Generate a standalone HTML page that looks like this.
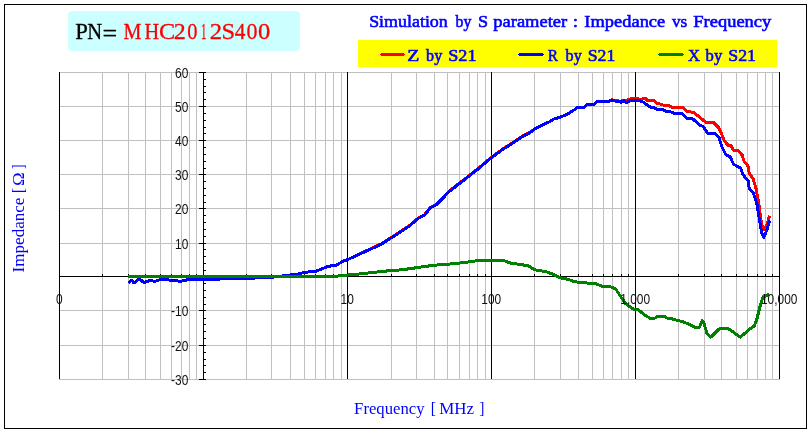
<!DOCTYPE html>
<html><head><meta charset="utf-8"><title>Impedance vs Frequency</title>
<style>html,body{margin:0;padding:0;background:#fff;}body{width:811px;height:432px;overflow:hidden;font-family:"Liberation Sans",sans-serif;}</style></head>
<body>
<svg width="811" height="432" viewBox="0 0 811 432" style="display:block;will-change:transform">
<rect x="0" y="0" width="811" height="432" fill="#fff"/>
<rect x="4.5" y="4.5" width="802" height="424" fill="#fff" stroke="#000" stroke-width="1"/>
<rect x="68" y="11" width="232" height="40" rx="4" ry="4" fill="#ccffff"/>
<rect x="358" y="40" width="419" height="27" fill="#ffff00"/>
<g stroke="#c0c0c0" stroke-width="1" shape-rendering="crispEdges"><line x1="102.5" y1="72" x2="102.5" y2="380"/><line x1="128.5" y1="72" x2="128.5" y2="380"/><line x1="145.5" y1="72" x2="145.5" y2="380"/><line x1="160.5" y1="72" x2="160.5" y2="380"/><line x1="171.5" y1="72" x2="171.5" y2="380"/><line x1="181.5" y1="72" x2="181.5" y2="380"/><line x1="189.5" y1="72" x2="189.5" y2="380"/><line x1="196.5" y1="72" x2="196.5" y2="380"/><line x1="246.5" y1="72" x2="246.5" y2="380"/><line x1="271.5" y1="72" x2="271.5" y2="380"/><line x1="290.5" y1="72" x2="290.5" y2="380"/><line x1="304.5" y1="72" x2="304.5" y2="380"/><line x1="315.5" y1="72" x2="315.5" y2="380"/><line x1="325.5" y1="72" x2="325.5" y2="380"/><line x1="333.5" y1="72" x2="333.5" y2="380"/><line x1="341.5" y1="72" x2="341.5" y2="380"/><line x1="391.5" y1="72" x2="391.5" y2="380"/><line x1="416.5" y1="72" x2="416.5" y2="380"/><line x1="434.5" y1="72" x2="434.5" y2="380"/><line x1="447.5" y1="72" x2="447.5" y2="380"/><line x1="459.5" y1="72" x2="459.5" y2="380"/><line x1="469.5" y1="72" x2="469.5" y2="380"/><line x1="477.5" y1="72" x2="477.5" y2="380"/><line x1="485.5" y1="72" x2="485.5" y2="380"/><line x1="534.5" y1="72" x2="534.5" y2="380"/><line x1="560.5" y1="72" x2="560.5" y2="380"/><line x1="578.5" y1="72" x2="578.5" y2="380"/><line x1="592.5" y1="72" x2="592.5" y2="380"/><line x1="603.5" y1="72" x2="603.5" y2="380"/><line x1="612.5" y1="72" x2="612.5" y2="380"/><line x1="621.5" y1="72" x2="621.5" y2="380"/><line x1="628.5" y1="72" x2="628.5" y2="380"/><line x1="678.5" y1="72" x2="678.5" y2="380"/><line x1="704.5" y1="72" x2="704.5" y2="380"/><line x1="721.5" y1="72" x2="721.5" y2="380"/><line x1="736.5" y1="72" x2="736.5" y2="380"/><line x1="747.5" y1="72" x2="747.5" y2="380"/><line x1="757.5" y1="72" x2="757.5" y2="380"/><line x1="765.5" y1="72" x2="765.5" y2="380"/><line x1="772.5" y1="72" x2="772.5" y2="380"/><line x1="59" y1="379.5" x2="780" y2="379.5"/><line x1="59" y1="345.5" x2="780" y2="345.5"/><line x1="59" y1="310.5" x2="780" y2="310.5"/><line x1="59" y1="276.5" x2="780" y2="276.5"/><line x1="59" y1="243.5" x2="780" y2="243.5"/><line x1="59" y1="208.5" x2="780" y2="208.5"/><line x1="59" y1="174.5" x2="780" y2="174.5"/><line x1="59" y1="140.5" x2="780" y2="140.5"/><line x1="59" y1="106.5" x2="780" y2="106.5"/><line x1="59" y1="72.5" x2="780" y2="72.5"/></g>
<g stroke="#000" stroke-width="1" shape-rendering="crispEdges"><line x1="59.5" y1="72" x2="59.5" y2="379"/><line x1="203.5" y1="72" x2="203.5" y2="379"/><line x1="347.5" y1="72" x2="347.5" y2="379"/><line x1="491.5" y1="72" x2="491.5" y2="379"/><line x1="635.5" y1="72" x2="635.5" y2="379"/><line x1="779.5" y1="72" x2="779.5" y2="379"/><line x1="59" y1="276.5" x2="780" y2="276.5"/><line x1="59.5" y1="274" x2="59.5" y2="277"/><line x1="102.5" y1="274" x2="102.5" y2="277"/><line x1="128.5" y1="274" x2="128.5" y2="277"/><line x1="145.5" y1="274" x2="145.5" y2="277"/><line x1="160.5" y1="274" x2="160.5" y2="277"/><line x1="171.5" y1="274" x2="171.5" y2="277"/><line x1="181.5" y1="274" x2="181.5" y2="277"/><line x1="189.5" y1="274" x2="189.5" y2="277"/><line x1="196.5" y1="274" x2="196.5" y2="277"/><line x1="203.5" y1="274" x2="203.5" y2="277"/><line x1="246.5" y1="274" x2="246.5" y2="277"/><line x1="271.5" y1="274" x2="271.5" y2="277"/><line x1="290.5" y1="274" x2="290.5" y2="277"/><line x1="304.5" y1="274" x2="304.5" y2="277"/><line x1="315.5" y1="274" x2="315.5" y2="277"/><line x1="325.5" y1="274" x2="325.5" y2="277"/><line x1="333.5" y1="274" x2="333.5" y2="277"/><line x1="341.5" y1="274" x2="341.5" y2="277"/><line x1="347.5" y1="274" x2="347.5" y2="277"/><line x1="391.5" y1="274" x2="391.5" y2="277"/><line x1="416.5" y1="274" x2="416.5" y2="277"/><line x1="434.5" y1="274" x2="434.5" y2="277"/><line x1="447.5" y1="274" x2="447.5" y2="277"/><line x1="459.5" y1="274" x2="459.5" y2="277"/><line x1="469.5" y1="274" x2="469.5" y2="277"/><line x1="477.5" y1="274" x2="477.5" y2="277"/><line x1="485.5" y1="274" x2="485.5" y2="277"/><line x1="491.5" y1="274" x2="491.5" y2="277"/><line x1="534.5" y1="274" x2="534.5" y2="277"/><line x1="560.5" y1="274" x2="560.5" y2="277"/><line x1="578.5" y1="274" x2="578.5" y2="277"/><line x1="592.5" y1="274" x2="592.5" y2="277"/><line x1="603.5" y1="274" x2="603.5" y2="277"/><line x1="612.5" y1="274" x2="612.5" y2="277"/><line x1="621.5" y1="274" x2="621.5" y2="277"/><line x1="628.5" y1="274" x2="628.5" y2="277"/><line x1="635.5" y1="274" x2="635.5" y2="277"/><line x1="678.5" y1="274" x2="678.5" y2="277"/><line x1="704.5" y1="274" x2="704.5" y2="277"/><line x1="721.5" y1="274" x2="721.5" y2="277"/><line x1="736.5" y1="274" x2="736.5" y2="277"/><line x1="747.5" y1="274" x2="747.5" y2="277"/><line x1="757.5" y1="274" x2="757.5" y2="277"/><line x1="765.5" y1="274" x2="765.5" y2="277"/><line x1="772.5" y1="274" x2="772.5" y2="277"/><line x1="199" y1="379.5" x2="206" y2="379.5"/><line x1="203" y1="372.5" x2="206" y2="372.5"/><line x1="203" y1="365.5" x2="206" y2="365.5"/><line x1="203" y1="359.5" x2="206" y2="359.5"/><line x1="203" y1="352.5" x2="206" y2="352.5"/><line x1="199" y1="345.5" x2="206" y2="345.5"/><line x1="203" y1="338.5" x2="206" y2="338.5"/><line x1="203" y1="331.5" x2="206" y2="331.5"/><line x1="203" y1="324.5" x2="206" y2="324.5"/><line x1="203" y1="318.5" x2="206" y2="318.5"/><line x1="199" y1="310.5" x2="206" y2="310.5"/><line x1="203" y1="304.5" x2="206" y2="304.5"/><line x1="203" y1="297.5" x2="206" y2="297.5"/><line x1="203" y1="290.5" x2="206" y2="290.5"/><line x1="203" y1="283.5" x2="206" y2="283.5"/><line x1="199" y1="276.5" x2="206" y2="276.5"/><line x1="203" y1="270.5" x2="206" y2="270.5"/><line x1="203" y1="263.5" x2="206" y2="263.5"/><line x1="203" y1="256.5" x2="206" y2="256.5"/><line x1="203" y1="249.5" x2="206" y2="249.5"/><line x1="199" y1="243.5" x2="206" y2="243.5"/><line x1="203" y1="236.5" x2="206" y2="236.5"/><line x1="203" y1="229.5" x2="206" y2="229.5"/><line x1="203" y1="222.5" x2="206" y2="222.5"/><line x1="203" y1="215.5" x2="206" y2="215.5"/><line x1="199" y1="208.5" x2="206" y2="208.5"/><line x1="203" y1="202.5" x2="206" y2="202.5"/><line x1="203" y1="195.5" x2="206" y2="195.5"/><line x1="203" y1="188.5" x2="206" y2="188.5"/><line x1="203" y1="181.5" x2="206" y2="181.5"/><line x1="199" y1="174.5" x2="206" y2="174.5"/><line x1="203" y1="168.5" x2="206" y2="168.5"/><line x1="203" y1="161.5" x2="206" y2="161.5"/><line x1="203" y1="154.5" x2="206" y2="154.5"/><line x1="203" y1="147.5" x2="206" y2="147.5"/><line x1="199" y1="140.5" x2="206" y2="140.5"/><line x1="203" y1="133.5" x2="206" y2="133.5"/><line x1="203" y1="127.5" x2="206" y2="127.5"/><line x1="203" y1="120.5" x2="206" y2="120.5"/><line x1="203" y1="113.5" x2="206" y2="113.5"/><line x1="199" y1="106.5" x2="206" y2="106.5"/><line x1="203" y1="99.5" x2="206" y2="99.5"/><line x1="203" y1="92.5" x2="206" y2="92.5"/><line x1="203" y1="86.5" x2="206" y2="86.5"/><line x1="203" y1="79.5" x2="206" y2="79.5"/><line x1="199" y1="72.5" x2="206" y2="72.5"/></g>
<polyline shape-rendering="crispEdges" fill="none" stroke="#ff0000" stroke-width="2.3" stroke-linejoin="round" stroke-linecap="butt" points="357.4,254.4 369.2,249.1 381.0,243.6 388.9,238.6 398.7,232.2 408.5,225.9 418.3,217.6 424.2,214.5 430.1,207.2 436.0,204.2 441.9,198.3 448.0,191.8 458.4,183.4 466.8,177.1 477.2,168.8 491.4,156.9 502.2,149.0 512.6,142.3 523.0,135.4 529.3,132.3 535.5,127.8 543.9,123.7"/>
<polyline shape-rendering="crispEdges" fill="none" stroke="#ff0000" stroke-width="3" stroke-linejoin="round" stroke-linecap="butt" points="544.2,124.2 550.4,121.3 553.7,119.1 559.9,117.3 566.0,114.9 572.2,111.2 577.7,107.5 583.9,107.5 587.0,104.6 593.8,104.3 596.9,101.6 609.2,101.2 611.7,99.8 613.5,100.5 619.0,101.0 620.9,101.2 624.0,100.4 626.4,100.6 628.9,99.4 631.4,98.4 637.5,98.4 639.6,99.3 642.0,99.3 643.7,98.4 645.5,98.6 647.6,100.6 654.0,100.8 657.7,103.8 661.5,104.2 664.5,105.8 669.8,106.0 672.0,107.5 683.0,107.6 686.7,111.3 694.0,112.6 700.6,118.1 706.1,122.4 713.5,122.4 719.0,128.0 721.9,134.8 724.6,141.3 728.3,145.4 731.1,145.9 733.9,150.6 738.5,150.9 742.2,155.2 744.1,161.3 748.1,166.2 749.2,173.5 753.1,178.8 756.2,189.2 759.1,205.8 761.3,222.5 763.6,229.8 766.2,226.7 769.6,215.8"/>
<polyline shape-rendering="crispEdges" fill="none" stroke="#0000ff" stroke-width="3" stroke-linejoin="round" stroke-linecap="butt" points="128.3,283.0 131.7,280.2 133.6,282.6 135.5,282.0 138.5,279.0 141.0,280.2 144.0,282.6 146.5,281.4 150.8,280.5 154.5,281.4 160.7,279.6 166.9,279.0 169.3,280.2 175.5,280.5 180.4,281.4 185.4,280.2 190.3,279.3 203.8,279.3 218.8,279.3 219.5,278.2 254.0,278.2 255.0,277.4 271.0,277.3 278.0,276.5 285.8,275.5 292.7,274.7 299.6,273.8 304.8,272.2 315.1,271.6 322.0,268.7 328.9,266.1 335.8,265.7 342.7,261.3 347.9,259.5 357.7,255.0 369.5,249.7 381.3,244.2 389.2,239.2 399.0,232.8 408.8,226.5 418.6,218.2 424.5,215.1 430.4,207.8 436.3,204.8 442.2,198.9 448.3,192.3 458.8,184.0 467.1,177.7 477.5,169.4 491.7,157.5 502.5,149.6 512.9,142.9 523.3,136.0 529.6,132.9 535.8,128.3 544.2,124.2 550.4,121.3 553.7,119.1 559.9,117.3 566.0,114.9 572.2,111.2 577.7,107.5 583.9,107.5 587.0,104.6 593.8,104.3 596.9,101.6 609.2,101.2 611.7,100.1 613.5,100.9 619.0,101.3 620.9,102.5 624.0,100.9 626.4,102.5 629.5,100.9 640.0,100.9 643.7,102.2 647.4,105.3 650.2,107.0 654.0,107.9 657.0,109.4 662.3,109.4 666.0,111.3 670.5,111.8 674.3,113.3 682.0,113.1 686.7,118.1 693.1,119.1 699.6,125.0 703.3,126.5 708.0,133.9 714.4,133.3 719.0,137.6 721.9,146.9 725.6,154.3 730.2,157.0 733.5,164.2 740.8,168.3 742.9,174.6 748.1,180.8 749.2,188.1 753.5,193.3 756.9,203.8 759.9,222.5 761.8,232.9 763.8,237.5 766.9,229.8 769.6,220.4"/>
<polyline shape-rendering="crispEdges" fill="none" stroke="#008000" stroke-width="3" stroke-linejoin="round" stroke-linecap="butt" points="128.0,276.5 337.0,276.5 339.0,275.6 353.8,274.6 365.6,273.3 389.2,270.7 402.9,269.7 418.6,267.4 434.4,265.2 448.1,264.2 461.9,262.8 480.0,260.3 502.6,260.2 510.5,263.1 528.2,265.7 534.1,269.7 546.0,271.6 553.8,274.6 559.3,277.6 568.5,279.4 574.0,281.7 587.0,283.0 596.3,283.9 601.9,286.3 610.2,286.7 615.7,289.0 621.3,297.4 625.9,303.9 633.3,309.0 638.0,309.4 644.4,315.0 650.9,318.7 654.6,318.3 657.4,316.3 663.9,316.3 667.6,318.3 671.3,318.7 678.3,320.6 684.8,322.4 695.9,327.6 699.6,327.0 702.4,320.6 704.3,324.3 707.0,333.5 710.7,337.2 719.1,328.9 728.3,328.5 733.9,332.6 740.4,337.2 748.7,329.8 754.3,326.1 757.0,318.7 760.7,303.9 762.6,298.3 765.4,296.0 769.3,294.3"/>
<g font-family="Liberation Sans, sans-serif" font-size="14" fill="#111"><text transform="translate(188.3,384.5) scale(0.85,1)" text-anchor="end">-30</text><text transform="translate(188.3,350.5) scale(0.85,1)" text-anchor="end">-20</text><text transform="translate(188.3,315.5) scale(0.85,1)" text-anchor="end">-10</text><text transform="translate(188.3,248.5) scale(0.85,1)" text-anchor="end">10</text><text transform="translate(188.3,213.5) scale(0.85,1)" text-anchor="end">20</text><text transform="translate(188.3,179.5) scale(0.85,1)" text-anchor="end">30</text><text transform="translate(188.3,145.5) scale(0.85,1)" text-anchor="end">40</text><text transform="translate(188.3,111.5) scale(0.85,1)" text-anchor="end">50</text><text transform="translate(188.3,77.5) scale(0.85,1)" text-anchor="end">60</text><text transform="translate(59.2,304) scale(0.85,1)" text-anchor="middle">0</text><text transform="translate(347.2,304) scale(0.85,1)" text-anchor="middle">10</text><text transform="translate(491.2,304) scale(0.85,1)" text-anchor="middle">100</text><text transform="translate(635.2,304) scale(0.85,1)" text-anchor="middle">1,000</text><text transform="translate(779.2,304) scale(0.85,1)" text-anchor="middle">10,000</text></g>
<rect x="171" y="279" width="4" height="1" fill="#000" shape-rendering="crispEdges"/>
<text transform="translate(75.37,38.90) scale(0.9450,1)" font-family="Liberation Serif, serif" font-size="24" font-weight="normal" fill="#000" stroke="#000" stroke-width="0.3">P</text>
<text transform="translate(87.33,38.90) scale(0.8582,1)" font-family="Liberation Serif, serif" font-size="24" font-weight="normal" fill="#000" stroke="#000" stroke-width="0.3">N</text>
<text transform="translate(102.55,40.60) scale(1.0842,1)" font-family="Liberation Serif, serif" font-size="24" font-weight="normal" fill="#000" stroke="#000" stroke-width="0.3">=</text>
<text transform="translate(123.45,38.90) scale(0.8384,1)" font-family="Liberation Serif, serif" font-size="24" font-weight="normal" fill="#ff0000" stroke="#ff0000" stroke-width="0.3">M</text>
<text transform="translate(144.39,38.90) scale(0.8490,1)" font-family="Liberation Serif, serif" font-size="24" font-weight="normal" fill="#ff0000" stroke="#ff0000" stroke-width="0.3">H</text>
<text transform="translate(159.08,38.90) scale(1.0088,1)" font-family="Liberation Serif, serif" font-size="24" font-weight="normal" fill="#ff0000" stroke="#ff0000" stroke-width="0.3">C</text>
<text transform="translate(173.77,38.90) scale(1.0000,1)" font-family="Liberation Serif, serif" font-size="24" font-weight="normal" fill="#ff0000" stroke="#ff0000" stroke-width="0.3">2</text>
<text transform="translate(187.33,38.90) scale(0.8532,1)" font-family="Liberation Serif, serif" font-size="24" font-weight="normal" fill="#ff0000" stroke="#ff0000" stroke-width="0.3">0</text>
<text transform="translate(201.07,38.90) scale(0.4524,1)" font-family="Liberation Serif, serif" font-size="24" font-weight="normal" fill="#ff0000" stroke="#ff0000" stroke-width="0.3">1</text>
<text transform="translate(209.74,38.90) scale(1.0313,1)" font-family="Liberation Serif, serif" font-size="24" font-weight="normal" fill="#ff0000" stroke="#ff0000" stroke-width="0.3">2</text>
<text transform="translate(221.46,38.90) scale(1.0174,1)" font-family="Liberation Serif, serif" font-size="24" font-weight="normal" fill="#ff0000" stroke="#ff0000" stroke-width="0.3">S</text>
<text transform="translate(234.82,38.90) scale(0.8871,1)" font-family="Liberation Serif, serif" font-size="24" font-weight="normal" fill="#ff0000" stroke="#ff0000" stroke-width="0.3">4</text>
<text transform="translate(246.57,38.90) scale(0.9127,1)" font-family="Liberation Serif, serif" font-size="24" font-weight="normal" fill="#ff0000" stroke="#ff0000" stroke-width="0.3">0</text>
<text transform="translate(257.97,38.90) scale(1.0218,1)" font-family="Liberation Serif, serif" font-size="24" font-weight="normal" fill="#ff0000" stroke="#ff0000" stroke-width="0.3">0</text>
<text transform="translate(369.13,27.40) scale(1.0307,1)" font-family="Liberation Serif, serif" font-size="17.4" font-weight="normal" fill="#0000ff" stroke="#0000ff" stroke-width="0.6">Simulation</text>
<text transform="translate(455.50,27.40) scale(0.9068,1)" font-family="Liberation Serif, serif" font-size="17.4" font-weight="normal" fill="#0000ff" stroke="#0000ff" stroke-width="0.6">by</text>
<text transform="translate(478.12,27.40) scale(1.0425,1)" font-family="Liberation Serif, serif" font-size="17.4" font-weight="normal" fill="#0000ff" stroke="#0000ff" stroke-width="0.6">S</text>
<text transform="translate(493.32,27.40) scale(1.0627,1)" font-family="Liberation Serif, serif" font-size="17.4" font-weight="normal" fill="#0000ff" stroke="#0000ff" stroke-width="0.6">parameter</text>
<text transform="translate(572.87,27.40) scale(1.0995,1)" font-family="Liberation Serif, serif" font-size="17.4" font-weight="normal" fill="#0000ff" stroke="#0000ff" stroke-width="0.6">:</text>
<text transform="translate(584.35,27.40) scale(1.0602,1)" font-family="Liberation Serif, serif" font-size="17.4" font-weight="normal" fill="#0000ff" stroke="#0000ff" stroke-width="0.6">Impedance</text>
<text transform="translate(672.00,27.40) scale(0.9881,1)" font-family="Liberation Serif, serif" font-size="17.4" font-weight="normal" fill="#0000ff" stroke="#0000ff" stroke-width="0.6">vs</text>
<text transform="translate(693.35,27.40) scale(1.0615,1)" font-family="Liberation Serif, serif" font-size="17.4" font-weight="normal" fill="#0000ff" stroke="#0000ff" stroke-width="0.6">Frequency</text>
<text transform="translate(407.31,61.20) scale(1.1648,1)" font-family="Liberation Serif, serif" font-size="17" font-weight="normal" fill="#0000ff" stroke="#0000ff" stroke-width="0.6">Z</text>
<text transform="translate(426.10,61.20) scale(0.9459,1)" font-family="Liberation Serif, serif" font-size="17" font-weight="normal" fill="#0000ff" stroke="#0000ff" stroke-width="0.6">by</text>
<text transform="translate(448.22,61.20) scale(1.0695,1)" font-family="Liberation Serif, serif" font-size="17" font-weight="normal" fill="#0000ff" stroke="#0000ff" stroke-width="0.6">S21</text>
<text transform="translate(547.84,61.20) scale(0.8986,1)" font-family="Liberation Serif, serif" font-size="17" font-weight="normal" fill="#0000ff" stroke="#0000ff" stroke-width="0.6">R</text>
<text transform="translate(565.60,61.20) scale(0.9459,1)" font-family="Liberation Serif, serif" font-size="17" font-weight="normal" fill="#0000ff" stroke="#0000ff" stroke-width="0.6">by</text>
<text transform="translate(587.75,61.20) scale(1.0407,1)" font-family="Liberation Serif, serif" font-size="17" font-weight="normal" fill="#0000ff" stroke="#0000ff" stroke-width="0.6">S21</text>
<text transform="translate(687.97,61.20) scale(0.9790,1)" font-family="Liberation Serif, serif" font-size="17" font-weight="normal" fill="#0000ff" stroke="#0000ff" stroke-width="0.6">X</text>
<text transform="translate(705.60,61.20) scale(0.9755,1)" font-family="Liberation Serif, serif" font-size="17" font-weight="normal" fill="#0000ff" stroke="#0000ff" stroke-width="0.6">by</text>
<text transform="translate(728.24,61.20) scale(1.0490,1)" font-family="Liberation Serif, serif" font-size="17" font-weight="normal" fill="#0000ff" stroke="#0000ff" stroke-width="0.6">S21</text>
<g shape-rendering="crispEdges" fill="#ff0000"><rect x="381" y="53" width="23" height="3"/><rect x="380" y="54" width="25" height="1"/></g>
<g shape-rendering="crispEdges" fill="#0000ff"><rect x="519" y="53" width="24" height="3"/><rect x="518" y="54" width="26" height="1"/></g>
<g shape-rendering="crispEdges" fill="#008000"><rect x="659" y="53" width="24" height="3"/><rect x="658" y="54" width="26" height="1"/></g>
<text transform="translate(354.10,414.2) scale(0.9490,1)" font-family="Liberation Serif, serif" font-size="17.6" fill="#0000ff">Frequency</text>
<text transform="translate(430.74,414.2) scale(0.8781,1)" font-family="Liberation Serif, serif" font-size="17.6" fill="#0000ff">[</text>
<text transform="translate(439.19,414.2) scale(0.9626,1)" font-family="Liberation Serif, serif" font-size="17.6" fill="#0000ff">MHz</text>
<text transform="translate(479.49,414.2) scale(0.8333,1)" font-family="Liberation Serif, serif" font-size="17.6" fill="#0000ff">]</text>
<text transform="translate(23.6,272.40) rotate(-90) scale(0.9691,1)" font-family="Liberation Serif, serif" font-size="17.6" fill="#0000ff">Impedance</text>
<text transform="translate(23.6,193.11) rotate(-90) scale(0.8394,1)" font-family="Liberation Serif, serif" font-size="17.6" fill="#0000ff">[</text>
<text transform="translate(23.6,185.92) rotate(-90) scale(1.0476,1)" font-family="Liberation Serif, serif" font-size="17.6" fill="#0000ff">Ω</text>
<text transform="translate(23.6,169.07) rotate(-90) scale(0.7576,1)" font-family="Liberation Serif, serif" font-size="17.6" fill="#0000ff">]</text>
</svg>
</body></html>
